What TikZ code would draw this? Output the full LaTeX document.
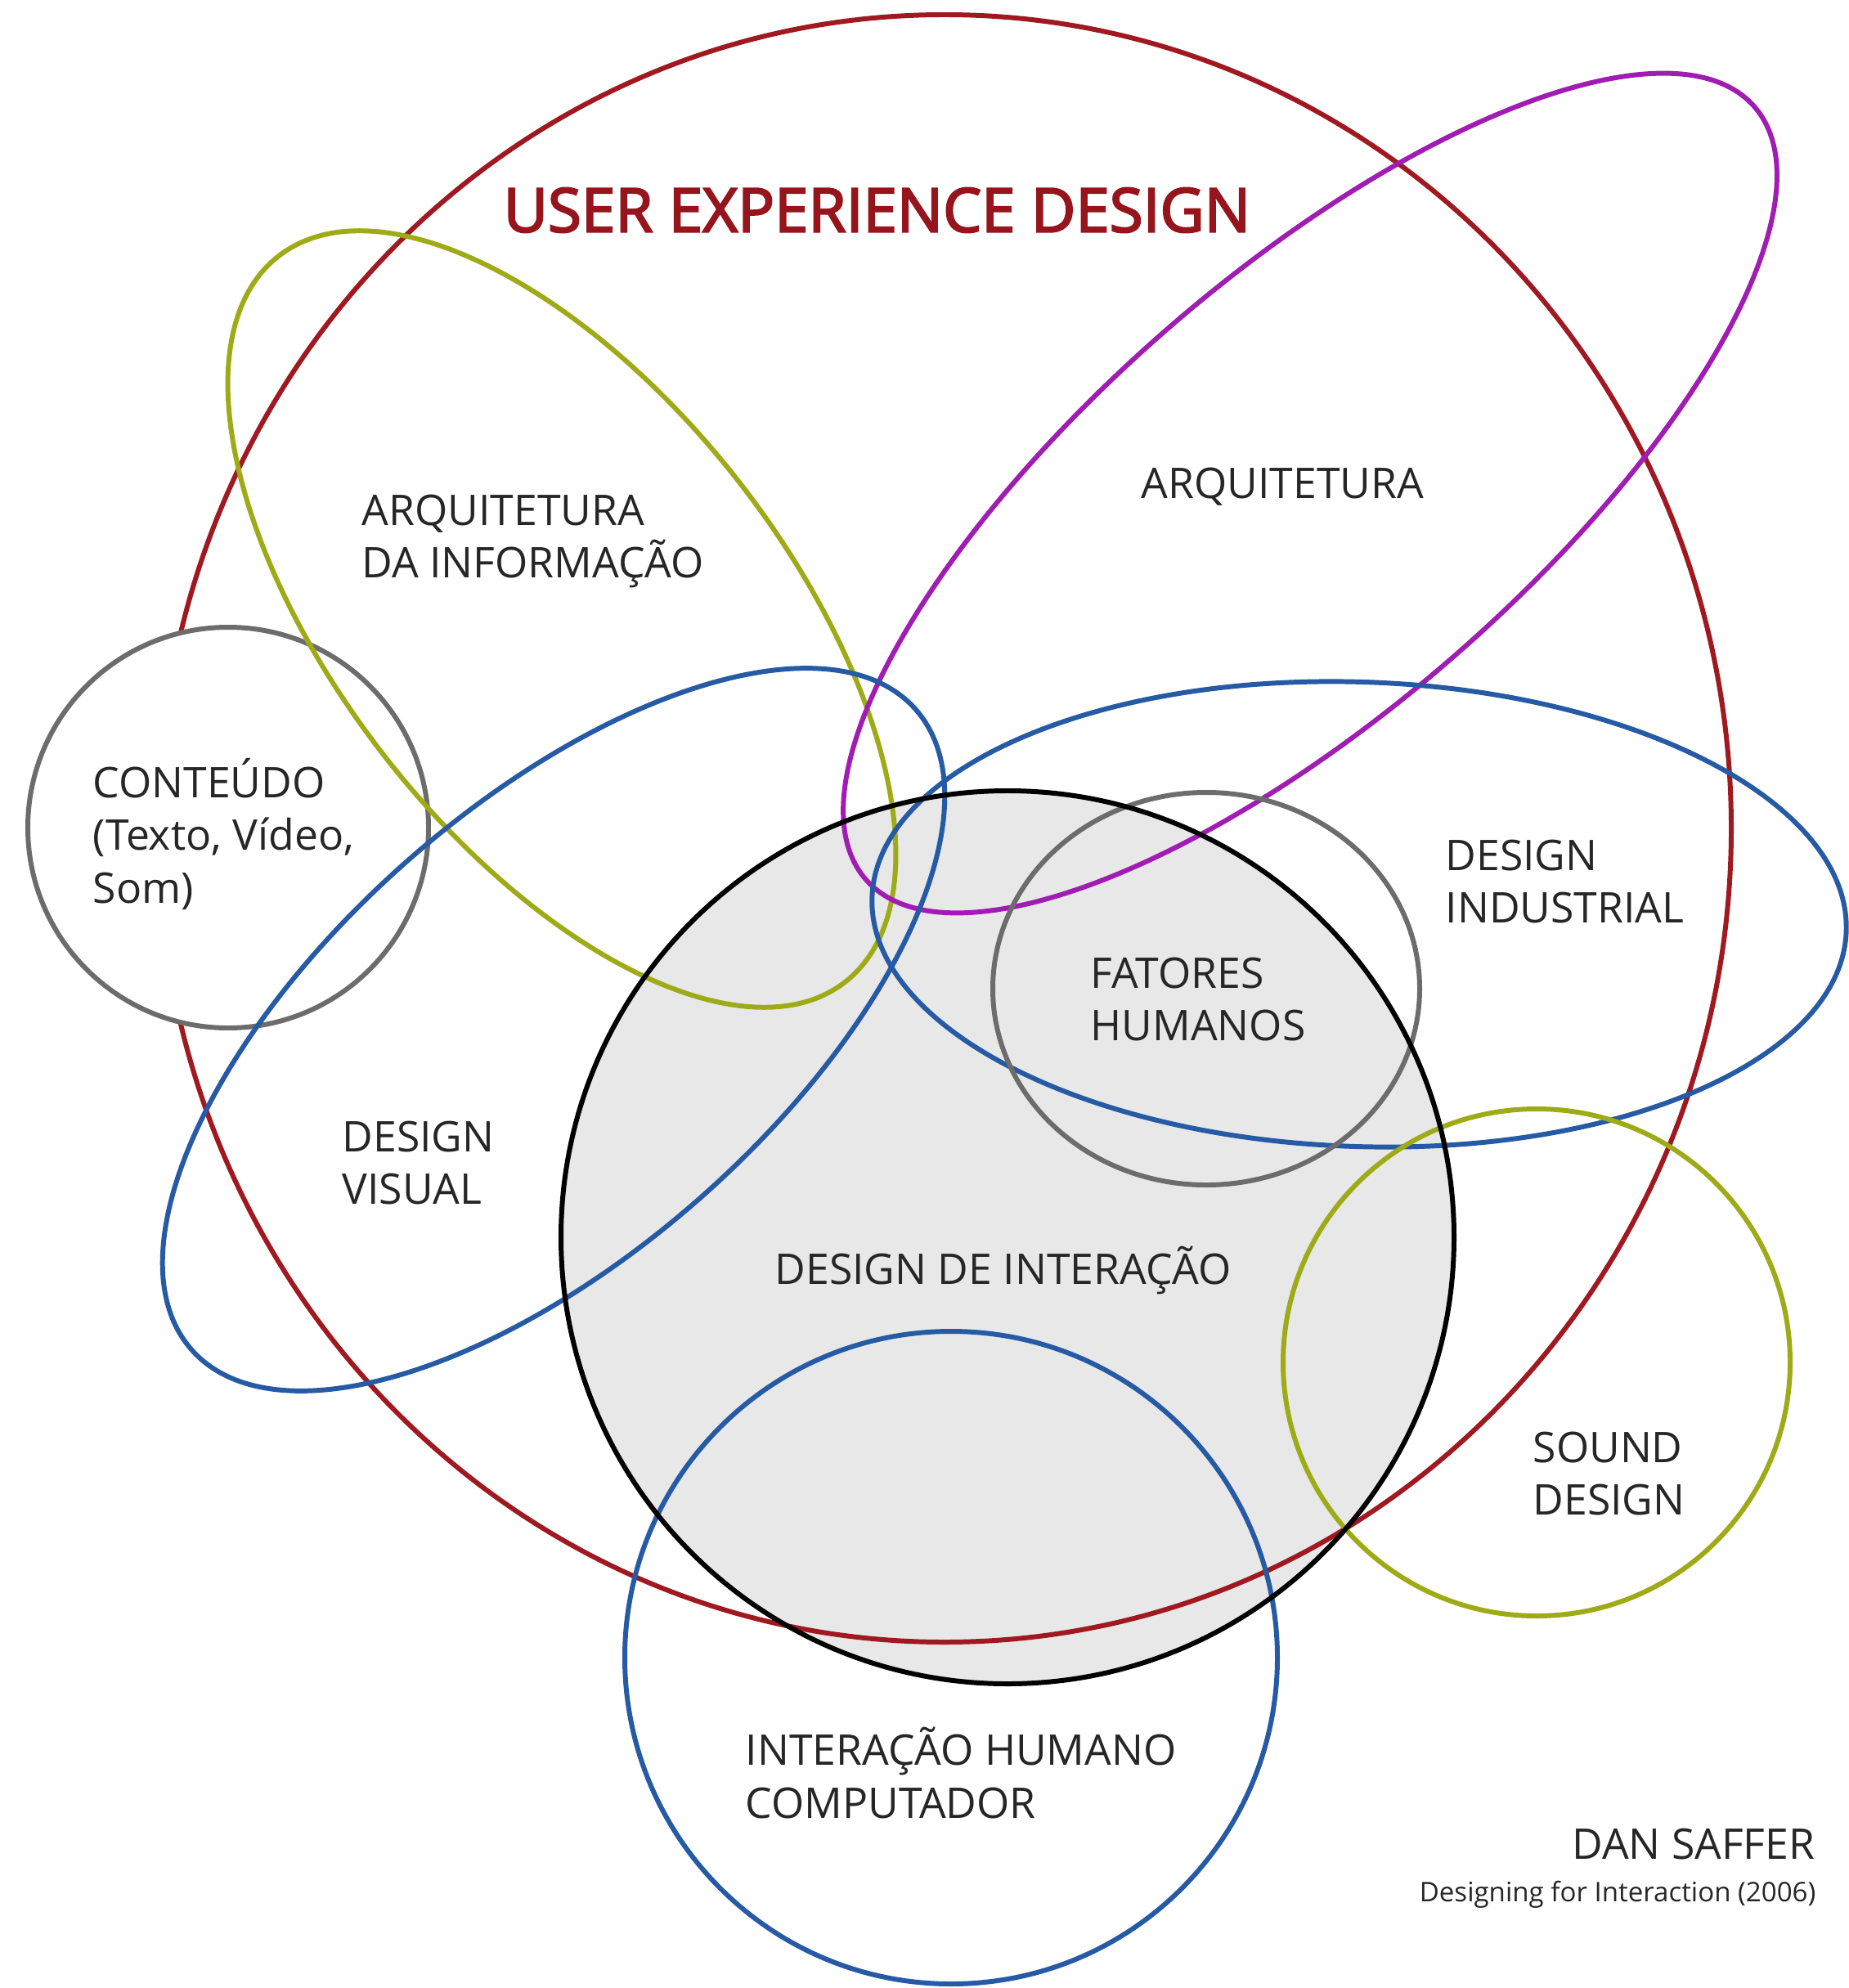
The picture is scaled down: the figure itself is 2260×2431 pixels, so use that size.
\documentclass[tikz,border=0pt]{standalone}
\usepackage{fontspec}
\setmainfont{Open Sans}
\newfontfamily\mytitlefam[FakeBold=3]{Open Sans}
\definecolor{redc}{RGB}{160,24,32}
\definecolor{titlered}{RGB}{150,20,28}
\definecolor{olivec}{RGB}{158,170,22}
\definecolor{magc}{RGB}{160,28,178}
\definecolor{bluec}{RGB}{38,90,165}
\definecolor{grayc}{RGB}{108,108,108}
\definecolor{fillg}{RGB}{232,232,232}
\definecolor{textc}{RGB}{38,38,38}
\newcommand\mylblfont{\fontsize{14.7}{18.4}\selectfont}
\newcommand\mytitlefont{\mytitlefam\fontsize{21.2}{25}\selectfont}
\newcommand\mysmallfont{\fontsize{9.4}{11}\selectfont}
\begin{document}
\begin{tikzpicture}[x=0.01cm,y=-0.01cm,
  ring/.style={line width=1.7pt},
  lbl/.style={anchor=west,align=left,font=\mylblfont,text=textc,inner sep=0pt}]
\fill[white] (0,0) rectangle (2260,2431);
\useasboundingbox (0,0) rectangle (2260,2431);
% centres
\coordinate (cUX) at (1155,1013);
\coordinate (cDI) at (1232,1513);
\coordinate (cCO) at (279,1012);
\coordinate (cAI) at (687,757);
\coordinate (cAR) at (1602,603);
\coordinate (cDV) at (677,1259);
\coordinate (cIN) at (1662,1118);
\coordinate (cFH) at (1475,1209);
\coordinate (cSD) at (1879,1666);
\coordinate (cIH) at (1163,2027);
% fill of interaction design
\fill[fillg] (cDI) circle [radius=546];
% user experience design
\draw[ring,redc] (cUX) ellipse [x radius=962, y radius=995];
% content
\filldraw[ring,fill=white,draw=grayc] (cCO) circle [radius=245];
% information architecture
\draw[ring,olivec,rotate around={-52:(cAI)}] (cAI) ellipse [x radius=563, y radius=274];
% architecture
\draw[ring,magc,rotate around={41:(cAR)}] (cAR) ellipse [x radius=720, y radius=266];
% visual design
\draw[ring,bluec,rotate around={41.5:(cDV)}] (cDV) ellipse [x radius=591, y radius=273];
% industrial design
\draw[ring,bluec,rotate around={-2:(cIN)}] (cIN) ellipse [x radius=596, y radius=284];
% human factors
\draw[ring,grayc] (cFH) ellipse [x radius=261, y radius=240];
% sound design
\draw[ring,olivec] (cSD) circle [radius=310];
% HCI
\draw[ring,bluec] (cIH) circle [radius=399];
% interaction design outline
\draw[ring,black] (cDI) circle [radius=546];
% labels
\node[anchor=west,inner sep=0pt,font=\mytitlefont,text=titlered] (tUX) at (615,257) {USER EXPERIENCE DESIGN};
\node[lbl] (tAI) at (442,662) {ARQUITETURA\\DA INFORMAÇÃO};
\node[lbl] (tAR) at (1395,595) {ARQUITETURA};
\node[lbl] (tCO) at (113,1020) {CONTEÚDO\\(Texto, Vídeo,\\Som)};
\node[lbl] (tIN) at (1767,1078) {DESIGN\\INDUSTRIAL};
\node[lbl] (tFH) at (1333,1222) {FATORES\\HUMANOS};
\node[lbl] (tDV) at (418,1422) {DESIGN\\VISUAL};
\node[lbl] (tDI) at (947,1553) {DESIGN DE INTERAÇÃO};
\node[lbl] (tSD) at (1874,1802) {SOUND\\DESIGN};
\node[lbl] (tIH) at (911,2168) {INTERAÇÃO HUMANO\\COMPUTADOR};
\node[lbl,anchor=east] (tDS) at (2220,2255) {DAN SAFFER};
\node[anchor=east,inner sep=0pt,font=\mysmallfont,text=textc] (tDF) at (2221,2317) {Designing for Interaction (2006)};
\end{tikzpicture}
\end{document}
